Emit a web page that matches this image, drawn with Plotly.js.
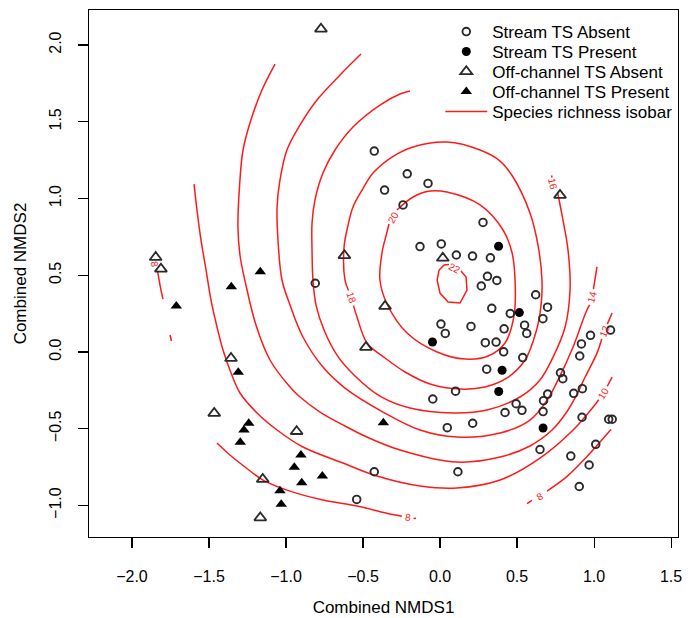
<!DOCTYPE html>
<html><head><meta charset="utf-8">
<script src="https://cdn.plot.ly/plotly-3.0.1.min.js"></script>
<style>html,body{margin:0;padding:0;background:#fff}#chart{width:694px;height:618px}</style>
</head><body><div id="chart"></div>
<script>
// ---- tick values ----
const xTicks = [-2, -1.5, -1, -0.5, 0, 0.5, 1, 1.5];
const yTicks = [-1, -0.5, 0, 0.5, 1, 1.5, 2];

// ---- Stream TS Absent ----
const streamAbsentX = [-0.427,-0.360,-0.213,-0.078,-0.240,0.279,-0.130,0.008,0.106,0.211,0.327,-0.810,0.308,0.369,0.268,0.621,0.698,0.336,0.456,0.668,0.549,0.563,0.416,0.201,0.006,0.034,0.294,0.364,0.413,0.537,0.303,0.101,-0.047,0.782,0.797,0.918,0.977,0.907,1.107,0.699,0.672,0.868,0.924,0.494,0.532,0.422,0.669,0.212,0.047,0.922,1.095,1.118,1.011,0.649,0.849,0.968,0.116,0.904,-0.427,-0.541];
const streamAbsentY = [1.309,1.055,1.161,1.098,0.958,0.844,0.687,0.704,0.632,0.625,0.614,0.448,0.493,0.466,0.430,0.373,0.292,0.285,0.251,0.217,0.175,0.121,0.151,0.167,0.182,0.121,0.061,0.065,0.001,-0.036,-0.112,-0.255,-0.306,-0.135,-0.174,0.053,0.109,-0.026,0.143,-0.274,-0.317,-0.269,-0.239,-0.337,-0.380,-0.394,-0.388,-0.464,-0.493,-0.425,-0.438,-0.438,-0.601,-0.635,-0.678,-0.736,-0.780,-0.876,-0.780,-0.960];

// ---- Stream TS Present ----
const streamPresentX = [0.380,0.515,-0.049,0.403,0.381,0.669];
const streamPresentY = [0.689,0.257,0.065,-0.119,-0.257,-0.495];

// ---- Off-channel TS Absent ----
const offAbsentX = [-0.773,0.779,-0.621,0.018,-1.846,-1.812,-0.357,-0.481,-1.357,-1.466,-0.931,-1.151,-1.167];
const offAbsentY = [2.104,1.021,0.629,0.612,0.617,0.541,0.298,0.031,-0.041,-0.399,-0.517,-0.829,-1.079];

// ---- Off-channel TS Present ----
const offPresentX = [-1.167,-1.355,-1.712,-1.310,-1.242,-1.273,-1.297,-0.368,-0.903,-0.946,-0.764,-0.898,-1.039,-1.031];
const offPresentY = [0.523,0.425,0.300,-0.132,-0.464,-0.508,-0.588,-0.461,-0.671,-0.751,-0.808,-0.851,-0.904,-0.992];

// ---- Species richness isobars (null = break at a label / mask) ----
const iso8X = [-1.834,-1.818,-1.799,null,-1.753,-1.744,null,-1.448,-1.364,-1.266,-1.149,-0.974,-0.760,-0.539,-0.325,-0.247,null,-0.172,-0.156,null,0.565,0.597,null,0.695,0.823,0.953,1.060,1.110];
const iso8Y = [0.528,0.436,0.345,null,0.111,0.072,null,-0.593,-0.671,-0.749,-0.834,-0.906,-0.964,-1.003,-1.055,-1.070,null,-1.083,-1.085,null,-0.988,-0.967,null,-0.906,-0.812,-0.682,-0.562,-0.505];
const iso10X = [-1.597,-1.578,-1.552,-1.519,-1.487,-1.448,-1.409,-1.364,-1.299,-1.188,-1.058,-0.890,-0.630,-0.409,-0.130,0.110,0.390,0.649,0.864,0.994,1.031,null,1.086,1.117];
const iso10Y = [1.094,0.925,0.730,0.534,0.339,0.163,0.013,-0.117,-0.267,-0.397,-0.508,-0.619,-0.723,-0.808,-0.873,-0.886,-0.834,-0.691,-0.508,-0.358,-0.311,null,-0.223,-0.163];
const iso12X = [-1.071,-1.156,-1.234,-1.279,-1.299,-1.312,-1.299,-1.260,-1.195,-1.104,-0.974,-0.909,-0.779,-0.617,-0.474,-0.260,0.110,0.390,0.584,0.727,0.818,0.883,0.942,1.019,1.050,null,1.086,1.117];
const iso12Y = [1.876,1.707,1.492,1.316,1.121,0.814,0.632,0.436,0.176,-0.052,-0.228,-0.293,-0.391,-0.482,-0.554,-0.638,-0.717,-0.684,-0.612,-0.508,-0.397,-0.287,-0.163,-0.007,0.085,null,0.182,0.254];
const iso14X = [-0.513,-0.649,-0.799,-0.909,-0.994,-1.039,-1.058,-1.052,-1.026,-0.974,-0.890,-0.760,-0.617,-0.370,-0.130,0.110,0.390,0.584,0.695,0.766,0.864,0.948,0.971,null,0.996,1.019];
const iso14Y = [1.941,1.805,1.642,1.479,1.316,1.121,0.945,0.730,0.469,0.306,0.098,-0.098,-0.235,-0.391,-0.508,-0.554,-0.528,-0.443,-0.313,-0.182,0.033,0.261,0.307,null,0.409,0.554];
const iso16X = [-0.195,-0.260,-0.390,-0.565,-0.682,-0.760,-0.812,-0.831,-0.831,-0.825,-0.805,-0.753,-0.669,-0.552,-0.390,-0.195,0.084,0.305,0.519,0.649,0.734,0.812,0.844,0.831,0.792,0.763,null,0.727,0.724];
const iso16Y = [1.700,1.681,1.609,1.466,1.316,1.166,0.990,0.840,0.664,0.469,0.306,0.143,-0.020,-0.156,-0.287,-0.365,-0.397,-0.378,-0.293,-0.182,-0.033,0.163,0.404,0.664,0.893,1.039,null,1.137,1.150];
const iso18X = [-0.562,-0.539,-0.474,-0.357,-0.227,-0.065,0.130,0.292,0.435,0.552,0.623,0.656,0.662,0.636,0.584,0.474,0.390,0.260,0.045,-0.175,-0.312,-0.435,-0.506,-0.565,-0.597,-0.623,-0.617,-0.594];
const iso18Y = [0.302,0.228,0.059,-0.039,-0.130,-0.208,-0.241,-0.228,-0.169,-0.052,0.130,0.306,0.469,0.697,0.906,1.140,1.244,1.316,1.368,1.336,1.270,1.166,1.055,0.945,0.827,0.684,0.469,0.401];
const iso20X = [-0.280,-0.175,-0.065,0.045,0.260,0.409,0.468,0.487,0.481,0.422,0.312,0.162,-0.019,-0.214,-0.344,-0.390,-0.377,-0.351,-0.331];
const iso20Y = [0.925,1.010,1.049,1.042,0.958,0.795,0.645,0.469,0.241,0.059,-0.026,-0.046,0.000,0.124,0.313,0.469,0.645,0.756,0.834];
const iso22X = [0.136,0.169,0.175,0.130,0.052,0.000,-0.019,-0.006,0.026,0.058];
const iso22Y = [0.528,0.489,0.404,0.319,0.326,0.384,0.469,0.534,0.567,0.570];

// ---- isobar labels ----
const isoLabelText = ['8','8','8','10','12','14','16','18','20','22'];
const isoLabelX = [-1.851,-0.205,0.649,1.058,1.068,0.984,0.734,-0.578,-0.305,0.097];
const isoLabelY = [0.573,-1.078,-0.941,-0.267,0.134,0.358,1.094,0.352,0.879,0.547];

// ---- styling ----
const FONT = '"Liberation Sans", Arial, Helvetica, sans-serif';
const RED = '#ff1a1a';
const INK = '#2a2a2a';
const labelAngles = [78, 6, -32, -58, -69, -76, 78, 72, -61, 28];

const isoSets = [[iso8X,iso8Y],[iso10X,iso10Y],[iso12X,iso12Y],[iso14X,iso14Y],[iso16X,iso16Y],[iso18X,iso18Y],[iso20X,iso20Y],[iso22X,iso22Y]];
const traces = [];
isoSets.forEach(function(s, i){
  traces.push({type:'scatter', mode:'lines', x:s[0], y:s[1], connectgaps:false,
    line:{color:RED, width:1.5, shape: i === 7 ? 'linear' : 'spline', smoothing:1},
    name:'Species richness isobar', legend:'legend5',
    showlegend: i === 0, hoverinfo:'skip'});
});
traces.push({type:'scatter', mode:'markers', x:streamAbsentX, y:streamAbsentY, name:'Stream TS Absent', legend:'legend',
  marker:{symbol:'circle-open', size:7.6, color:INK, line:{color:INK, width:1.9}}});
traces.push({type:'scatter', mode:'markers', x:streamPresentX, y:streamPresentY, name:'Stream TS Present', legend:'legend2',
  marker:{symbol:'circle', size:9, color:'#000'}});
traces.push({type:'scatter', mode:'markers', x:offAbsentX, y:offAbsentY, name:'Off-channel TS Absent', legend:'legend3',
  marker:{symbol:'triangle-up-open', size:10.5, color:INK, line:{color:INK, width:1.8}}});
traces.push({type:'scatter', mode:'markers', x:offPresentX, y:offPresentY, name:'Off-channel TS Present', legend:'legend4',
  marker:{symbol:'triangle-up', size:10, color:'#000'}});

const annotations = isoLabelText.map(function(t, i){
  return {x:isoLabelX[i], y:isoLabelY[i], xref:'x', yref:'y', text:t, showarrow:false,
    textangle:labelAngles[i], font:{family:FONT, size:10, color:RED}};
});

function leg(yPaper){
  return {x:0.5964, y:yPaper, xanchor:'left', yanchor:'middle', bgcolor:'rgba(0,0,0,0)',
    borderwidth:0, itemwidth:42, font:{family:FONT, size:17, color:'#000'}, itemclick:false, itemdoubleclick:false};
}

const axisCommon = {showgrid:false, zeroline:false, showline:true, mirror:true, linecolor:'#000', linewidth:1.2,
  ticks:'outside', ticklen:10, tickwidth:1.1, tickcolor:'#000', tickformat:'.1f',
  tickfont:{family:FONT, size:16, color:'#000'}, automargin:false, fixedrange:true};

const layout = {
  width:694, height:618,
  margin:{l:89, r:16, t:10, b:81},
  paper_bgcolor:'#fff', plot_bgcolor:'#fff',
  font:{family:FONT, color:'#000'},
  showlegend:true,
  hovermode:false,
  xaxis: Object.assign({}, axisCommon, {range:[-2.279, 1.545], tickvals:xTicks, ticklabelstandoff:15,
    title:{text:'Combined NMDS1', font:{family:FONT, size:17, color:'#000'}, standoff:16}}),
  yaxis: Object.assign({}, axisCommon, {range:[-1.205, 2.228], tickvals:yTicks, tickangle:-90, ticklabelstandoff:10,
    title:{text:'Combined NMDS2', font:{family:FONT, size:17, color:'#000'}, standoff:16}}),
  legend: leg(0.9583), legend2: leg(0.9203), legend3: leg(0.8824), legend4: leg(0.8444), legend5: leg(0.8065),
  annotations: annotations
};

Plotly.newPlot('chart', traces, layout, {displayModeBar:false, staticPlot:true});
</script>
</body></html>
